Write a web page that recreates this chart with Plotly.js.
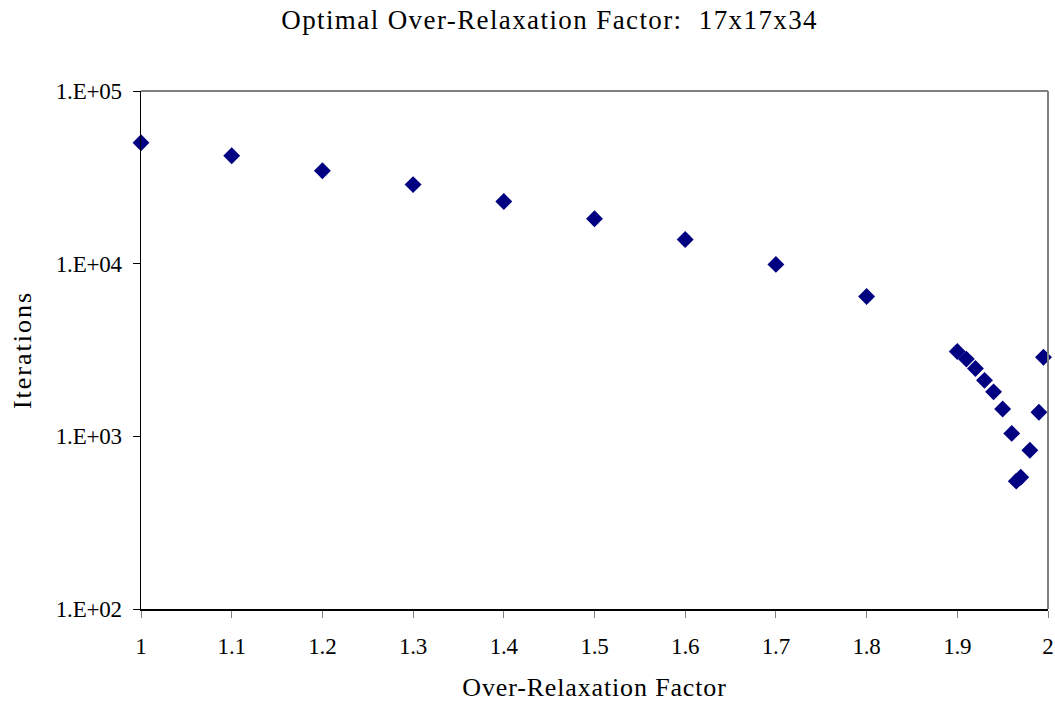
<!DOCTYPE html>
<html>
<head>
<meta charset="utf-8">
<script src="https://cdn.plot.ly/plotly-3.0.1.min.js"></script>
<style>
html,body{margin:0;padding:0;background:#fff;}
#chart{width:1055px;height:706px;}
#chart .gtitle{letter-spacing:1.4px;}
#chart .xtitle{letter-spacing:0.85px;}
#chart .ytitle{letter-spacing:2px;}
#chart .xtick text, #chart .ytick text{letter-spacing:-0.2px;}
</style>
</head>
<body>
<div id="chart"></div>
<script>
const factors = [1.0, 1.1, 1.2, 1.3, 1.4, 1.5, 1.6, 1.7, 1.8, 1.9, 1.91, 1.92, 1.93, 1.94, 1.95, 1.96, 1.965, 1.97, 1.98, 1.99, 1.995];
const iterations = [50200, 42200, 34500, 28700, 22900, 18200, 13800, 9900, 6450, 3100, 2800, 2470, 2110, 1810, 1440, 1040, 550, 580, 830, 1380, 2870];
const yTickVals = [100, 1000, 10000, 100000];
const yTickText = ["1.E+02", "1.E+03", "1.E+04", "1.E+05"];
const xTickVals = [1, 1.1, 1.2, 1.3, 1.4, 1.5, 1.6, 1.7, 1.8, 1.9, 2];
const xTickText = ["1", "1.1", "1.2", "1.3", "1.4", "1.5", "1.6", "1.7", "1.8", "1.9", "2"];

const font = "Liberation Serif, Times New Roman, serif";
const trace = {
  x: factors, y: iterations, type: "scatter", mode: "markers",
  marker: {symbol: "diamond", size: 13, color: "#000080"},
  cliponaxis: false, hoverinfo: "x+y"
};
const layout = {
  width: 1055, height: 706,
  margin: {l: 141, r: 7, t: 91, b: 97},
  paper_bgcolor: "#fff", plot_bgcolor: "#fff",
  font: {family: font, size: 23, color: "#000"},
  title: {text: "Optimal Over-Relaxation Factor:  17x17x34", font: {family: font, size: 27, color: "#000"}, x: 0.521, xanchor: "center", y: 0.972, yanchor: "middle"},
  showlegend: false,
  xaxis: {
    range: [1, 2], tickvals: xTickVals, ticktext: xTickText,
    showgrid: false, zeroline: false, showline: true, linecolor: "#000", linewidth: 1.5,
    ticks: "outside", ticklen: 7, tickcolor: "#808080", tickwidth: 1,
    tickfont: {family: font, size: 23}, ticklabelstandoff: 9, automargin: false,
    title: {text: "Over-Relaxation Factor", font: {family: font, size: 26}, standoff: 19}
  },
  yaxis: {
    type: "log", range: [2, 5], tickvals: yTickVals, ticktext: yTickText,
    showgrid: false, zeroline: false, showline: true, linecolor: "#000", linewidth: 1.5,
    ticks: "outside", ticklen: 7, tickcolor: "#000", tickwidth: 1,
    tickfont: {family: font, size: 23}, ticklabelstandoff: 6, automargin: false,
    title: {text: "Iterations", font: {family: font, size: 26}, standoff: 15}
  },
  shapes: [
    {type: "line", xref: "paper", yref: "paper", x0: 0, x1: 1, y0: 1, y1: 1, line: {color: "#808080", width: 2}},
    {type: "line", xref: "paper", yref: "paper", x0: 1, x1: 1, y0: 0, y1: 1, line: {color: "#808080", width: 2}}
  ]
};
Plotly.newPlot("chart", [trace], layout, {displayModeBar: false, staticPlot: true});
</script>
</body>
</html>
